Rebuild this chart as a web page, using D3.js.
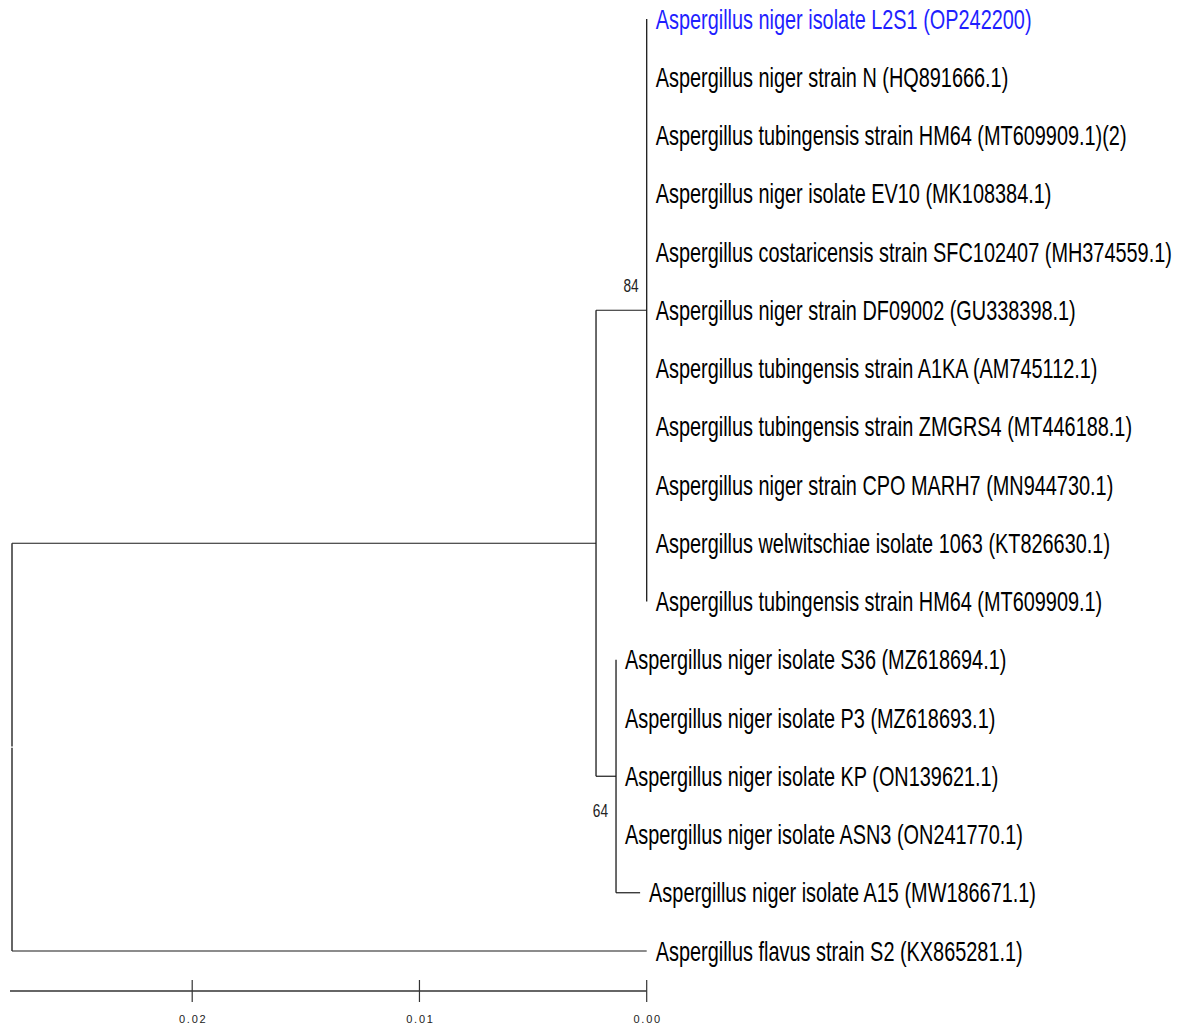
<!DOCTYPE html>
<html>
<head>
<meta charset="utf-8">
<script src="https://cdn.jsdelivr.net/npm/d3@7"></script>
<style>
  html, body { margin: 0; padding: 0; background: #fff; }
  svg { display: block; }
</style>
</head>
<body>
<svg id="chart" width="1188" height="1029"></svg>
<script>
// ---------------- DATA ----------------
const cladeATaxa = [
  "Aspergillus niger isolate L2S1 (OP242200)",
  "Aspergillus niger strain N (HQ891666.1)",
  "Aspergillus tubingensis strain HM64 (MT609909.1)(2)",
  "Aspergillus niger isolate EV10 (MK108384.1)",
  "Aspergillus costaricensis strain SFC102407 (MH374559.1)",
  "Aspergillus niger strain DF09002 (GU338398.1)",
  "Aspergillus tubingensis strain A1KA (AM745112.1)",
  "Aspergillus tubingensis strain ZMGRS4 (MT446188.1)",
  "Aspergillus niger strain CPO MARH7 (MN944730.1)",
  "Aspergillus welwitschiae isolate 1063 (KT826630.1)",
  "Aspergillus tubingensis strain HM64 (MT609909.1)"
];
const cladeATipLengths = [0, 0, 0, 0, 0, 0, 0, 0, 0, 0, 0];
const cladeBTaxa = [
  "Aspergillus niger isolate S36 (MZ618694.1)",
  "Aspergillus niger isolate P3 (MZ618693.1)",
  "Aspergillus niger isolate KP (ON139621.1)",
  "Aspergillus niger isolate ASN3 (ON241770.1)",
  "Aspergillus niger isolate A15 (MW186671.1)"
];
const cladeBTipLengths = [0, 0, 0, 0, 0.00106];
const outgroupTaxon = "Aspergillus flavus strain S2 (KX865281.1)";
const outgroupLength = 0.02793;
const internalNodes = ["ingroup", "cladeA", "cladeB"];
const internalLengths = [0.02570, 0.00223, 0.00088];
const bootstrapValues = [null, 84, 64];
const highlightedTaxa = ["Aspergillus niger isolate L2S1 (OP242200)"];
const axisTicks = [0.02, 0.01, 0.00];

// ---------------- BUILD TREE ----------------
const cladeA = {
  name: internalNodes[1], length: internalLengths[1], support: bootstrapValues[1],
  children: cladeATaxa.map((t, i) => ({ name: t, length: cladeATipLengths[i] }))
};
const cladeB = {
  name: internalNodes[2], length: internalLengths[2], support: bootstrapValues[2],
  children: cladeBTaxa.map((t, i) => ({ name: t, length: cladeBTipLengths[i] }))
};
const treeData = {
  name: "root", length: 0,
  children: [
    { name: internalNodes[0], length: internalLengths[0], support: bootstrapValues[0], children: [cladeA, cladeB] },
    { name: outgroupTaxon, length: outgroupLength }
  ]
};

const root = d3.hierarchy(treeData);
root.each(d => { d.dist = (d.parent ? d.parent.dist : 0) + (d.data.length || 0); });
const maxDist = d3.max(root.leaves(), d => d.dist);

const xLeft = 12, xRight = 646.7;
const x = d3.scaleLinear().domain([0, maxDist]).range([xLeft, xRight]);
const leaves = root.leaves();
const y = d3.scaleLinear().domain([0, leaves.length - 1]).range([19, 951]);
leaves.forEach((d, i) => { d.py = y(i); });
root.eachAfter(d => {
  if (d.children) {
    d.py = (d.children[0].py + d.children[d.children.length - 1].py) / 2;
  }
  d.px = x(d.dist);
});

const svg = d3.select("#chart");
const g = svg.append("g");
const lineColor = "#1a1a1a";

// horizontal branches
root.descendants().filter(d => d.parent).forEach(d => {
  g.append("line")
    .attr("x1", d.parent.px).attr("x2", d.px)
    .attr("y1", d.py).attr("y2", d.py)
    .attr("stroke", lineColor).attr("stroke-width", 1.2);
});
// vertical connectors
root.descendants().filter(d => d.children).forEach(d => {
  const first = d.children[0].py, last = d.children[d.children.length - 1].py;
  if (d === root) {
    g.append("line").attr("x1", d.px).attr("x2", d.px).attr("y1", first).attr("y2", d.py - 0.7)
      .attr("stroke", "#333").attr("stroke-width", 1.5);
    g.append("line").attr("x1", d.px).attr("x2", d.px).attr("y1", d.py + 0.7).attr("y2", last)
      .attr("stroke", "#333").attr("stroke-width", 1.5);
  } else {
    g.append("line").attr("x1", d.px).attr("x2", d.px).attr("y1", first).attr("y2", last)
      .attr("stroke", lineColor).attr("stroke-width", 1.3);
  }
});

// leaf labels
const fontFamily = "'Liberation Sans Narrow', 'Arial Narrow', 'Liberation Sans', Arial, sans-serif";
const fontSize = 27;
// measure to compute horizontal condensation
const probe = svg.append("text").attr("font-family", fontFamily).attr("font-size", fontSize)
  .text(cladeATaxa[1]);
const w1 = probe.node().getComputedTextLength();
probe.text(cladeATaxa[4]);
const w2 = probe.node().getComputedTextLength();
probe.remove();
const sx = ((336 / w1) + (541 / w2)) / 2;

leaves.forEach(d => {
  g.append("text")
    .attr("transform", `translate(${d.px + 9},${d.py + fontSize * 0.36}) scale(${sx},1)`)
    .attr("font-family", fontFamily)
    .attr("font-size", fontSize)
    .attr("fill", highlightedTaxa.includes(d.data.name) ? "#1f1fff" : "#000")
    .text(d.data.name);
});

// bootstrap labels
root.descendants().filter(d => d.data.support != null).forEach((d, i) => {
  const above = i === 0;
  g.append("text")
    .attr("transform", `translate(${d.px - 8},${above ? d.py - 18 : d.py + 41}) scale(0.72,1)`)
    .attr("font-family", fontFamily)
    .attr("font-size", 19)
    .attr("text-anchor", "end")
    .attr("fill", "#222")
    .text(d.data.support);
});

// scale axis
const axisScale = d3.scaleLinear().domain([maxDist, 0]).range([xLeft, xRight]);
const axisY = 991;
const axisG = svg.append("g").attr("transform", `translate(0,${axisY})`);
axisG.append("line").attr("x1", axisScale(maxDist) - 2).attr("x2", axisScale(0))
  .attr("stroke", "#666").attr("stroke-width", 2);
axisG.selectAll("line.tick").data(axisTicks).enter().append("line")
  .attr("class", "tick")
  .attr("x1", d => axisScale(d)).attr("x2", d => axisScale(d))
  .attr("y1", -11).attr("y2", 11)
  .attr("stroke", "#333").attr("stroke-width", 1.2);
axisG.selectAll("text.tl").data(axisTicks).enter().append("text")
  .attr("class", "tl")
  .attr("x", d => axisScale(d) + 1)
  .attr("y", 32)
  .attr("text-anchor", "middle")
  .attr("font-family", "'Liberation Sans', Arial, sans-serif")
  .attr("font-size", 11)
  .attr("letter-spacing", 1.8)
  .attr("fill", "#222")
  .text(d => d.toFixed(2));
</script>
</body>
</html>
